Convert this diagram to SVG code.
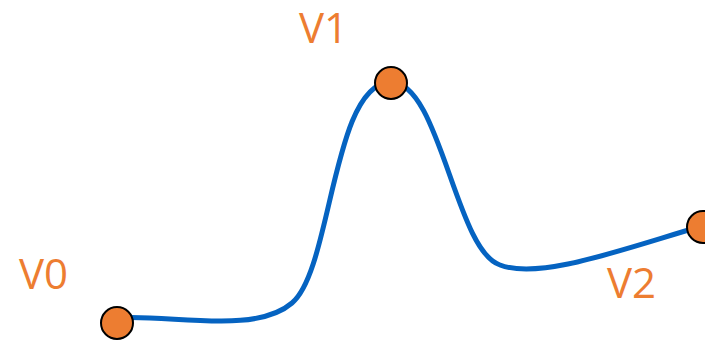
<svg xmlns="http://www.w3.org/2000/svg" width="705" height="340" viewBox="0 0 705 340">
<style>
.lbl{font-family:"Open Sans","Liberation Sans",sans-serif;font-size:42px;fill:#ED7D31}
.node{fill:#ED7D31;stroke:#000;stroke-width:2}
.curve{fill:none;stroke:#0563C1;stroke-width:5;stroke-linecap:round}
</style>
<rect width="705" height="340" fill="#fff"/>
<g id="connectors">
<path class="curve" d="M117,318 C170,314 255,335 292,303 C332,270 332,85 390,82 C440,80 455,250 500,265 C540,280 620,250 702,226"/>
</g>
<g id="V0"><circle class="node" cx="117" cy="323" r="16"/><text class="lbl" x="19" y="289">V0</text></g>
<g id="V1"><circle class="node" cx="391" cy="83" r="16"/><text class="lbl" x="299" y="43">V1</text></g>
<g id="V2"><circle class="node" cx="703" cy="227" r="16"/><text class="lbl" x="607" y="298">V2</text></g>
</svg>
